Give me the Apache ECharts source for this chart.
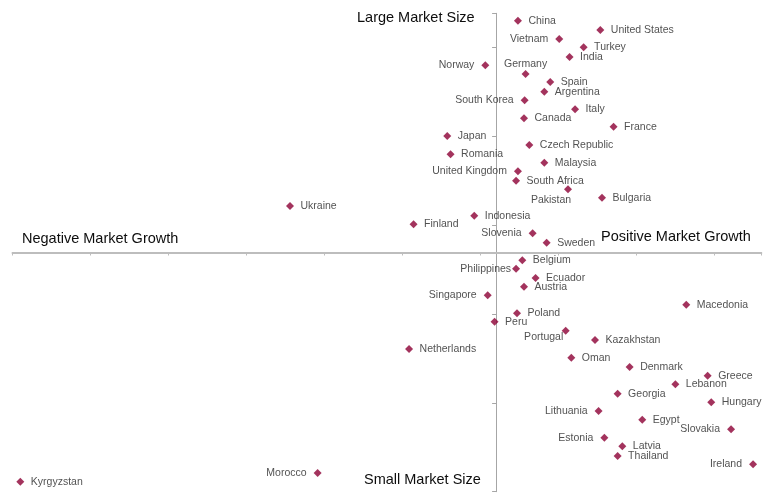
<!DOCTYPE html>
<html><head><meta charset="utf-8">
<script src="https://cdn.jsdelivr.net/npm/echarts@6/dist/echarts.min.js"></script>
<style>html,body{margin:0;padding:0;background:#fff}#c{width:773px;height:504px}</style>
</head><body><div id="c"></div>
<script>
// Market growth (x) vs market size (y), arbitrary units
const countries = ['China','Vietnam','Norway','Germany','Spain','Argentina','South Korea','Canada','India','Turkey','Italy','United States','France','Japan','Romania','Czech Republic','Malaysia','United Kingdom','South Africa','Pakistan','Bulgaria','Indonesia','Finland','Slovenia','Sweden','Ukraine','Belgium','Philippines','Ecuador','Austria','Singapore','Poland','Peru','Portugal','Kazakhstan','Oman','Denmark','Netherlands','Macedonia','Greece','Lebanon','Georgia','Hungary','Lithuania','Egypt','Slovakia','Estonia','Latvia','Thailand','Ireland','Kyrgyzstan','Morocco'];
const growth = [1.40,4.05,-0.69,1.89,3.47,3.09,1.83,1.79,4.71,5.61,5.06,6.68,7.53,-3.13,-2.92,2.13,3.09,1.40,1.28,4.61,6.79,-1.40,-5.29,2.34,3.24,-13.21,1.68,1.28,2.53,1.79,-0.54,1.34,-0.10,4.46,6.34,4.82,8.56,-5.58,12.19,13.56,11.49,7.79,13.79,6.57,9.37,15.06,6.94,8.09,7.79,16.47,-30.50,-11.44];
const size = [260.7,240.1,210.5,200.7,191.7,180.8,171.2,150.9,219.9,230.8,161.0,250.2,141.5,131.0,110.4,120.9,101.0,91.3,80.7,71.1,61.6,41.4,31.7,21.6,11.0,52.3,-8.8,-18.2,-28.7,-38.5,-48.1,-68.4,-77.8,-87.9,-98.4,-118.3,-128.8,-108.5,-58.7,-138.6,-148.2,-158.8,-168.5,-178.3,-188.0,-198.8,-208.3,-217.9,-228.9,-238.2,-257.8,-248.0];
const quadrantTitles = ['Large Market Size','Small Market Size','Negative Market Growth','Positive Market Growth'];

const leftLabels = ['Vietnam','Norway','South Korea','United Kingdom','Slovenia','Philippines','Singapore','Lithuania','Slovakia','Estonia','Ireland','Morocco'];
const FONT = '"Liberation Sans", Arial, sans-serif';

const data = countries.map((n, i) => {
  const item = { name: n, value: [growth[i], size[i]] };
  if (leftLabels.includes(n)) item.label = { position: 'left', distance: n === 'Philippines' ? 1 : 7 };
  if (n === 'Germany') item.label = { position: 'top', distance: 0 };
  if (n === 'Pakistan') item.label = { position: [-13, 14.5], align: 'center', verticalAlign: 'middle' };
  if (n === 'Portugal') item.label = { position: [-18, 10], align: 'center', verticalAlign: 'middle' };
  return item;
});

const chart = echarts.init(document.getElementById('c'), null, { renderer: 'canvas' });
chart.setOption({
  animation: false,
  backgroundColor: '#fff',
  grid: { left: 12.5, right: 11.7, top: 13.3, bottom: 12.3, containLabel: false },
  xAxis: {
    type: 'value', min: -31, max: 17, interval: 5,
    axisLine: { show: true, onZero: true, lineStyle: { color: '#bdbdbd', width: 2 } },
    axisTick: { show: true, length: 3, lineStyle: { color: '#bdbdbd', width: 1 } },
    axisLabel: { show: false }, splitLine: { show: false }
  },
  yAxis: {
    type: 'value', min: -269, max: 269, interval: 100,
    axisLine: { show: true, onZero: true, lineStyle: { color: '#a6a6a6', width: 1 } },
    axisTick: { show: true, length: 4, lineStyle: { color: '#a6a6a6', width: 1 } },
    axisLabel: { show: false }, splitLine: { show: false }
  },
  graphic: [
    { type: 'text', left: 357, top: 10, style: { text: quadrantTitles[0], font: '14.5px ' + FONT, fill: '#0d0d0d' } },
    { type: 'text', left: 364, top: 472, style: { text: quadrantTitles[1], font: '14.5px ' + FONT, fill: '#0d0d0d' } },
    { type: 'text', left: 22, top: 231, style: { text: quadrantTitles[2], font: '14.5px ' + FONT, fill: '#0d0d0d' } },
    { type: 'text', left: 601, top: 229, style: { text: quadrantTitles[3], font: '14.5px ' + FONT, fill: '#0d0d0d' } }
  ],
  series: [{
    type: 'scatter',
    symbol: 'diamond',
    symbolSize: 8,
    itemStyle: { color: '#8c0034' },
    label: { show: true, position: 'right', distance: 6.5, formatter: '{b}', color: '#262626', fontSize: 10.5, fontFamily: FONT },
    emphasis: { disabled: true },
    data: data
  }]
});
</script>
</body></html>
